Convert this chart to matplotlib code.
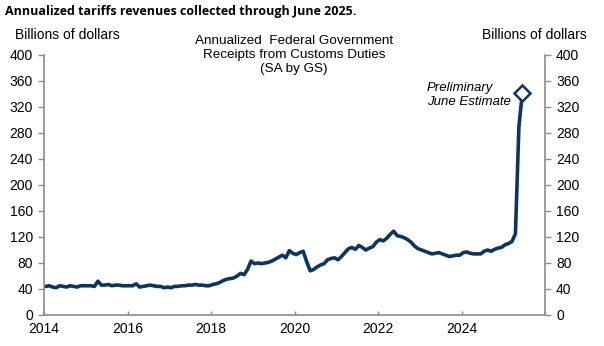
import numpy as np
import matplotlib.pyplot as plt

plt.rcParams['font.family'] = ['Liberation Sans', 'DejaVu Sans']

# annualized customs receipts, billions of dollars, monthly from Jan 2014
years = list(range(2014, 2026))
receipts = {
    2014: [44, 45, 43, 42, 45, 44, 43, 45, 44, 43, 45, 45],
    2015: [45, 45, 44, 52, 46, 46, 47, 45, 46, 46, 45, 45],
    2016: [45, 45, 48, 43, 44, 45, 46, 45, 44, 44, 42, 43],
    2017: [42, 44, 44, 45, 45, 46, 46, 47, 46, 46, 45, 45],
    2018: [47, 48, 50, 53, 55, 56, 57, 60, 64, 62, 70, 83],
    2019: [79, 80, 79, 80, 81, 83, 86, 89, 92, 88, 99, 95],
    2020: [93, 96, 98, 82, 68, 70, 74, 77, 79, 85, 87, 88],
    2021: [85, 90, 96, 102, 104, 101, 107, 104, 100, 103, 105, 112],
    2022: [116, 114, 118, 124, 129, 122, 121, 119, 116, 112, 106, 102],
    2023: [100, 98, 96, 94, 95, 96, 94, 92, 90, 91, 92, 92],
    2024: [96, 97, 95, 94, 94, 94, 98, 100, 98, 101, 103, 104],
    2025: [108, 110, 113, 125, 290, 342],
}
x_ticks = [2014, 2016, 2018, 2020, 2022, 2024, 2026]
x_labels = ['2014', '2016', '2018', '2020', '2022', '2024', '']
y_ticks = list(range(0, 401, 40))

t = []
v = []
for yr in years:
    for i, val in enumerate(receipts[yr]):
        t.append(yr + (i + 0.5) / 12)
        v.append(val)
t = np.array(t)
v = np.array(v)

navy = '#0c3560'
grey = '#8c8c8c'

fig = plt.figure(figsize=(6.04, 3.46), dpi=100)
ax = fig.add_axes([44 / 604, 1 - 315 / 346, (545 - 44) / 604, (315 - 55) / 346])

ax.plot(t, v, color=navy, lw=2.6, solid_joinstyle='round')
ax.plot(t[-1], v[-1], marker='D', ms=8, mfc='white', mec=navy, mew=1.8)

ax.set_xlim(2014, 2026)
ax.set_ylim(0, 400)
ax.set_xticks(x_ticks)
ax.set_xticklabels(x_labels)
ax.set_yticks(y_ticks)

for s in ['left', 'right', 'bottom']:
    ax.spines[s].set_color(grey)
    ax.spines[s].set_linewidth(1.2)
ax.spines['top'].set_visible(False)

ax.tick_params(axis='y', direction='out', length=4, color=grey, width=1,
               labelsize=10, right=True, labelright=True, pad=4)
ax.tick_params(axis='x', direction='in', length=3, color=grey, width=1,
               labelsize=10, pad=5)

ax.text(2023.17, 338, 'Preliminary\nJune Estimate', ha='left', va='center',
        style='italic', fontsize=9.5, linespacing=1.2)

fig.text(5 / 604, 1 - 11 / 346, 'Annualized tariffs revenues collected through June 2025.',
         fontsize=9, fontweight='bold', ha='left', va='center',
         family=['Open Sans', 'DejaVu Sans'])
fig.text(15 / 604, 1 - 35 / 346, 'Billions of dollars', fontsize=10, ha='left', va='center')
fig.text(587 / 604, 1 - 35 / 346, 'Billions of dollars', fontsize=10, ha='right', va='center')
fig.text(294 / 604, 1 - 55 / 346,
         'Annualized  Federal Government\nReceipts from Customs Duties\n(SA by GS)',
         fontsize=9.7, ha='center', va='center', linespacing=1.25)

fig.savefig('out.png', dpi=100)
